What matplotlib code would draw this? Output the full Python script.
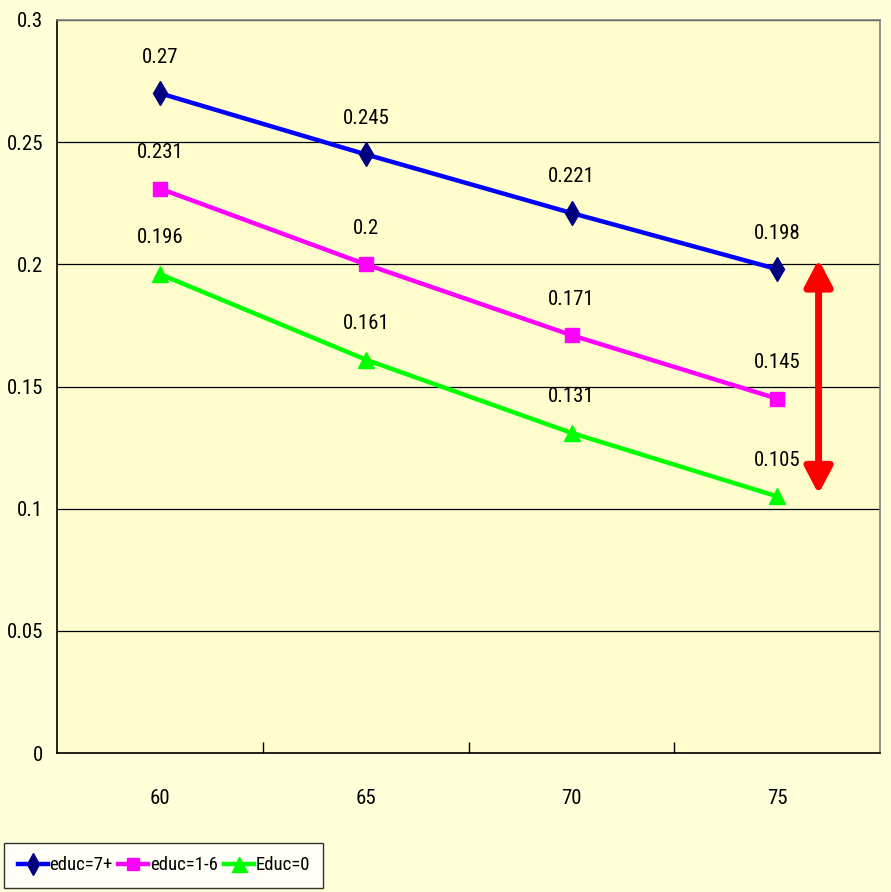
import matplotlib
matplotlib.use("Agg")
import matplotlib.pyplot as plt
from matplotlib.ticker import FixedLocator, NullFormatter

plt.rcParams['font.family'] = ['Roboto Condensed', 'Liberation Sans', 'DejaVu Sans']

categories = ["60", "65", "70", "75"]
educ7 = [0.27, 0.245, 0.221, 0.198]
educ16 = [0.231, 0.2, 0.171, 0.145]
educ0 = [0.196, 0.161, 0.131, 0.105]
labels7 = ["0.27", "0.245", "0.221", "0.198"]
labels16 = ["0.231", "0.2", "0.171", "0.145"]
labels0 = ["0.196", "0.161", "0.131", "0.105"]
yticks = [0, 0.05, 0.1, 0.15, 0.2, 0.25, 0.3]
yticklabels = ["0", "0.05", "0.1", "0.15", "0.2", "0.25", "0.3"]
arrow_x = 3.2
arrow_top = 0.202
arrow_bottom = 0.106

fig = plt.figure(figsize=(8.91, 8.92), dpi=100, facecolor='#FFFFDA')
ax = fig.add_axes([0.064, 0.1558, 0.924, 0.8218])
ax.set_facecolor('#FFFDCC')

x = list(range(len(categories)))
series = [
    (educ7, labels7, '#0000FF', '#000080', 'd', 12, 'educ=7+'),
    (educ16, labels16, '#FF00FF', '#FF00FF', 's', 10, 'educ=1-6'),
    (educ0, labels0, '#00FF00', '#00FF00', '^', 12, 'Educ=0'),
]
handles = []
for vals, labs, lc, mc, mk, ms, name in series:
    h, = ax.plot(x, vals, color=lc, lw=3.2, marker=mk, markersize=ms,
                 markerfacecolor=mc, markeredgecolor=mc, label=name, zorder=3)
    handles.append(h)
    for xi, v, t in zip(x, vals, labs):
        ax.annotate(t, (xi, v), xytext=(0, 26), textcoords='offset points',
                    ha='center', va='center', fontsize=15, color='black')

ax.annotate('', xy=(arrow_x, arrow_top), xytext=(arrow_x, arrow_bottom),
            arrowprops=dict(arrowstyle='<|-|>,head_length=0.8,head_width=0.42',
                            color='#FF0000', lw=5, shrinkA=0, shrinkB=0,
                            mutation_scale=20), zorder=4)

ax.set_xlim(-0.5, 3.5)
ax.set_ylim(0, 0.3)
ax.set_yticks(yticks)
ax.set_yticklabels(yticklabels, fontsize=15)
ax.tick_params(axis='y', length=0, pad=10)
ax.set_xticks(x)
ax.set_xticklabels(categories, fontsize=15)
ax.tick_params(axis='x', which='major', length=0, pad=26)
ax.xaxis.set_minor_locator(FixedLocator([0.5, 1.5, 2.5]))
ax.xaxis.set_minor_formatter(NullFormatter())
ax.tick_params(axis='x', which='minor', direction='in', length=8, width=1, color='black')
ax.grid(axis='y', color='black', lw=0.9, zorder=1)
ax.set_axisbelow(True)
for s in ['left', 'bottom']:
    ax.spines[s].set_color('black')
    ax.spines[s].set_linewidth(1.2)
for s in ['top', 'right']:
    ax.spines[s].set_color('#808080')
    ax.spines[s].set_linewidth(1.2)

leg = fig.legend(handles=handles, loc='lower left', bbox_to_anchor=(0.005, 0.005),
                 ncol=3, fontsize=13.5, frameon=True, fancybox=False,
                 handlelength=1.6, handletextpad=0.1, columnspacing=0.3,
                 borderpad=0.7, borderaxespad=0, markerscale=0.9)
leg.get_frame().set_edgecolor('black')
leg.get_frame().set_facecolor('white')
leg.get_frame().set_linewidth(1.0)

fig.savefig('out.png', dpi=100, facecolor=fig.get_facecolor())
